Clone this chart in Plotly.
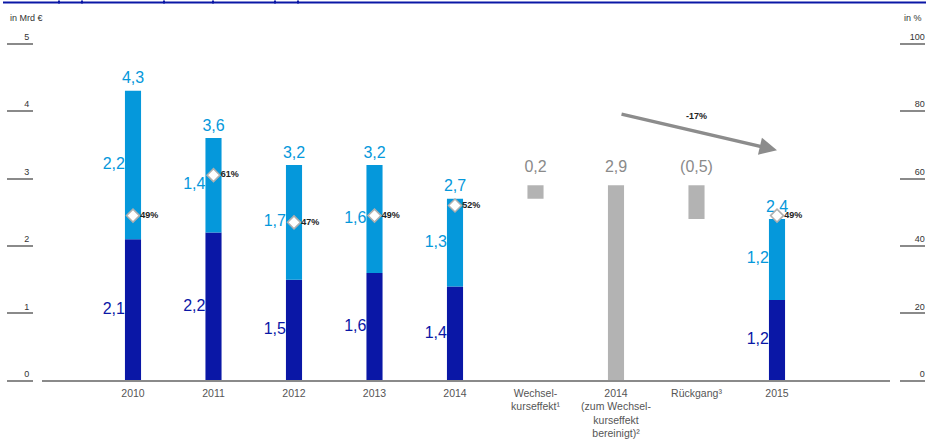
import plotly.graph_objects as go

# ---- data ----
categories = ["2010", "2011", "2012", "2013", "2014",
              "Wechsel-<br>kurseffekt¹", "2014<br>(zum Wechsel-<br>kurseffekt<br>bereinigt)²",
              "Rückgang³", "2015"]
year_idx = [0, 1, 2, 3, 4, 8]
dark_vals = [2.1, 2.2, 1.5, 1.6, 1.4, 1.2]
light_vals = [2.2, 1.4, 1.7, 1.6, 1.3, 1.2]
totals = [4.3, 3.6, 3.2, 3.2, 2.7, 2.4]
ratio_pct = [49, 61, 47, 49, 52, 49]
gray_idx = [5, 6, 7]
gray_base = [2.7, 0.0, 2.4]
gray_height = [0.2, 2.9, 0.5]
gray_labels = ["0,2", "2,9", "(0,5)"]
change_label = "-17%"
left_ticks = [0, 1, 2, 3, 4, 5]
right_ticks = [0, 20, 40, 60, 80, 100]

DARK = "#0a17a6"
LIGHT = "#0598db"
GRAY = "#b3b3b3"
FONT = "Liberation Sans, Arial, sans-serif"

def de(v):
    return f"{v:.1f}".replace(".", ",")

UNIT_Y = 67.55
YMIN, YMAX = -0.15, 5.35
W, H = 926, 441
L, R = 7, 1
BASE_Y = 381  # pixel row of value 0
B = H - (BASE_Y - YMIN * UNIT_Y)
ph = (YMAX - YMIN) * UNIT_Y
T = H - B - ph
pw = W - L - R

def px(xp):
    return (xp - L) / pw

def py(yp):
    return (H - B - yp) / ph

fig = go.Figure()
BW = 0.2
fig.add_bar(x=year_idx, y=dark_vals, marker_color=DARK, width=BW, showlegend=False,
            marker_line_width=0, hoverinfo="skip")
fig.add_bar(x=year_idx, y=light_vals, base=dark_vals, marker_color=LIGHT, width=BW,
            showlegend=False, marker_line_width=0, hoverinfo="skip")
fig.add_bar(x=gray_idx, y=gray_height, base=gray_base, marker_color=GRAY, width=BW,
            showlegend=False, marker_line_width=0, hoverinfo="skip")

# segment labels (left of bars)
fig.add_scatter(x=[i - BW / 2 for i in year_idx], y=[d / 2 for d in dark_vals],
                mode="text", text=[de(v) for v in dark_vals], textposition="middle left",
                textfont=dict(color=DARK, size=16, family=FONT), showlegend=False, hoverinfo="skip")
fig.add_scatter(x=[i - BW / 2 for i in year_idx], y=[d + l / 2 for d, l in zip(dark_vals, light_vals)],
                mode="text", text=[de(v) for v in light_vals], textposition="middle left",
                textfont=dict(color=LIGHT, size=16, family=FONT), showlegend=False, hoverinfo="skip")
# totals
fig.add_scatter(x=year_idx, y=[t + 0.05 for t in totals], mode="text", text=[de(v) for v in totals],
                textposition="top center", textfont=dict(color=LIGHT, size=16, family=FONT),
                showlegend=False, hoverinfo="skip")
# gray labels
fig.add_scatter(x=gray_idx, y=[b + h + 0.14 for b, h in zip(gray_base, gray_height)], mode="text",
                text=gray_labels, textposition="top center",
                textfont=dict(color="#8a8a8a", size=16, family=FONT), showlegend=False, hoverinfo="skip")

# ratio markers on right axis
fig.add_scatter(x=year_idx, y=ratio_pct, yaxis="y2", mode="markers+text",
                marker=dict(symbol="diamond", size=10, color="white",
                            line=dict(color="#b0b0b0", width=1.5)),
                text=[f"<b>{p}%</b>" for p in ratio_pct], textposition="middle right",
                textfont=dict(color="#222", size=9, family=FONT), showlegend=False, hoverinfo="skip")

# arrow and change label
fig.add_annotation(x=8.0, y=3.42, ax=6.05, ay=3.96, xref="x", yref="y", axref="x", ayref="y",
                   showarrow=True, arrowhead=2, arrowsize=1, arrowwidth=3.5, arrowcolor="#8c8c8c",
                   text="")
fig.add_annotation(x=7.0, y=3.92, xref="x", yref="y", text=f"<b>{change_label}</b>",
                   showarrow=False, font=dict(size=9, color="#222", family=FONT))

# axis titles
fig.add_annotation(x=px(8), y=py(18), xref="paper", yref="paper", text="in Mrd €", showarrow=False,
                   xanchor="left", yanchor="middle", font=dict(size=9, color="#333", family=FONT))
fig.add_annotation(x=px(924), y=py(18), xref="paper", yref="paper", text="in %", showarrow=False,
                   xanchor="right", yanchor="middle", font=dict(size=9, color="#333", family=FONT))

shapes = []
# baseline
shapes.append(dict(type="line", xref="paper", yref="y", x0=px(42), x1=px(890), y0=0, y1=0,
                   line=dict(color="#8a8a8a", width=2)))
# top decorative blue rule
shapes.append(dict(type="line", xref="paper", yref="paper", x0=px(3), x1=px(926), y0=py(2), y1=py(2),
                   line=dict(color=DARK, width=2)))
for xv in [59, 82, 164, 213, 275, 298]:
    shapes.append(dict(type="line", xref="paper", yref="paper", x0=px(xv), x1=px(xv), y0=py(0), y1=py(3),
                       line=dict(color=DARK, width=2)))

unit = 80.5
xmin = -(133 - L) / unit
xmax = xmin + pw / unit

fig.update_layout(
    width=W, height=H, margin=dict(l=L, r=R, t=T, b=B, autoexpand=False),
    paper_bgcolor="white", plot_bgcolor="white",
    barmode="overlay", shapes=shapes,
    font=dict(family=FONT),
    xaxis=dict(range=[xmin, xmax], tickmode="array", tickvals=list(range(len(categories))),
               ticktext=categories, showgrid=False, zeroline=False, showline=False,
               tickfont=dict(size=10.5, color="#555"), ticks="", ticklabelstandoff=-6,
               automargin=False),
    yaxis=dict(range=[YMIN, YMAX], tickvals=left_ticks, showgrid=False, zeroline=False, showline=False,
               ticks="inside", ticklen=26, tickwidth=2, tickcolor="#8a8a8a",
               ticklabelposition="inside", ticklabelstandoff=-10, ticklabelshift=-7,
               tickfont=dict(size=9, color="#333"), automargin=False),
    yaxis2=dict(range=[YMIN * 20, YMAX * 20], tickvals=right_ticks, overlaying="y", side="right",
                showgrid=False, zeroline=False, showline=False,
                ticks="inside", ticklen=25, tickwidth=2, tickcolor="#8a8a8a",
                ticklabelposition="inside", ticklabelstandoff=-26, ticklabelshift=-7,
                tickfont=dict(size=9, color="#333"), automargin=False),
)

# remove the default 8px page margin so the figure fills the 926x441 window exactly
fig.write_html("out.html", config={"displayModeBar": False},
               post_script="document.body.style.margin='0';document.body.style.overflow='hidden';")
